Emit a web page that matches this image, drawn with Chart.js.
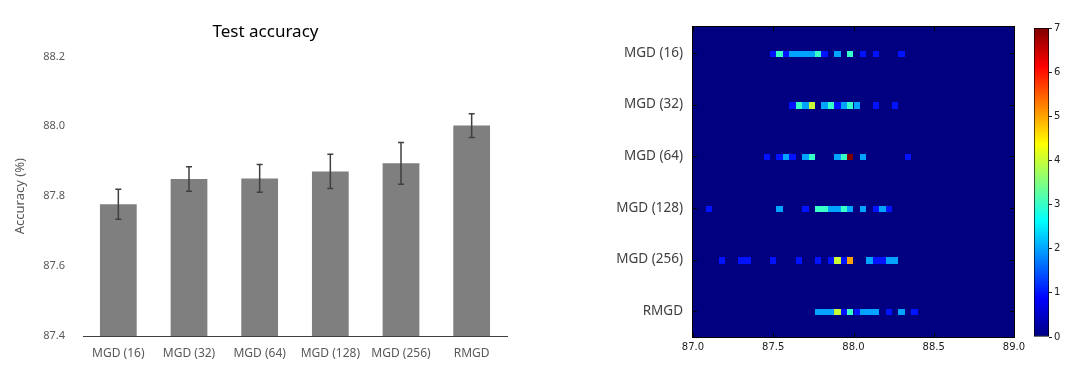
<!DOCTYPE html>
<html><head><meta charset="utf-8">
<script src="https://cdn.jsdelivr.net/npm/chart.js@4.4.1/dist/chart.umd.min.js"></script>
<style>
html,body{margin:0;padding:0;background:#fff;width:1076px;height:378px;overflow:hidden;}
canvas{position:absolute;top:0;}
#bar{left:0}
#heat{left:590px}
#cbar{left:1030px}
</style></head><body>
<canvas id="bar" width="540" height="378"></canvas>
<canvas id="heat" width="440" height="378"></canvas>
<canvas id="cbar" width="46" height="378"></canvas>
<script>
// ---- data ----
const categories = ['MGD (16)','MGD (32)','MGD (64)','MGD (128)','MGD (256)','RMGD'];
const accuracy = [87.777, 87.849, 87.851, 87.871, 87.894, 88.002];
const errors   = [0.043, 0.035, 0.040, 0.049, 0.060, 0.034];
const yTicks = [87.4, 87.6, 87.8, 88.0, 88.2];

// histogram of final accuracies (bin left edge, count) per method
const binWidth = 0.04;
const mgd16Bins   = [87.48,87.52,87.56,87.60,87.64,87.68,87.72,87.76,87.80,87.88,87.96,88.04,88.12,88.28];
const mgd16Counts = [1,3,1,2,2,2,2,3,1,2,3,1,1,1];
const mgd32Bins   = [87.60,87.64,87.68,87.72,87.80,87.84,87.88,87.92,87.96,88.00,88.12,88.24];
const mgd32Counts = [1,3,2,4,2,3,1,2,3,2,1,1];
const mgd64Bins   = [87.44,87.52,87.56,87.60,87.68,87.72,87.88,87.92,87.96,88.04,88.32];
const mgd64Counts = [1,1,2,1,2,3,2,3,7,2,1];
const mgd128Bins  = [87.08,87.52,87.68,87.76,87.80,87.84,87.88,87.92,87.96,88.04,88.12,88.16,88.20];
const mgd128Counts= [1,2,1,3,3,2,2,3,2,2,1,2,1];
const mgd256Bins  = [87.16,87.28,87.32,87.48,87.64,87.76,87.84,87.88,87.92,87.96,88.08,88.12,88.16,88.20,88.24];
const mgd256Counts= [1,1,1,1,1,1,1,4,1,5,2,1,1,2,2];
const rmgdBins    = [87.76,87.80,87.84,87.88,87.92,87.96,88.00,88.04,88.08,88.12,88.20,88.28,88.36];
const rmgdCounts  = [2,2,2,4,1,3,1,2,2,2,1,2,1];
const heatXTicks = [87.0, 87.5, 88.0, 88.5, 89.0];
const colorbarMax = 7;

// ---- helpers ----
const F = '"Noto Sans", "Open Sans", sans-serif';
const FD = '"DejaVu Sans", sans-serif';
function clamp(v){return Math.max(0,Math.min(1,v));}
function jet(t){
  const r=clamp(Math.min(4*t-1.5,-4*t+4.5)), g=clamp(Math.min(4*t-0.5,-4*t+3.5)), b=clamp(Math.min(4*t+0.5,-4*t+2.5));
  return 'rgb('+Math.round(r*255)+','+Math.round(g*255)+','+Math.round(b*255)+')';
}

// ---- bar chart with error bars ----
const errorBarPlugin = {id:'errorBars', afterDatasetsDraw(chart){
  const meta = chart.getDatasetMeta(0), y = chart.scales.y, ctx = chart.ctx;
  ctx.save(); ctx.strokeStyle='#404040'; ctx.lineWidth=1.5;
  meta.data.forEach((bar,i)=>{
    const x = bar.x;
    const yt = y.getPixelForValue(accuracy[i]+errors[i]);
    const yb = y.getPixelForValue(accuracy[i]-errors[i]);
    ctx.beginPath();
    ctx.moveTo(x,yt); ctx.lineTo(x,yb);
    ctx.moveTo(x-3,yt); ctx.lineTo(x+3,yt);
    ctx.moveTo(x-3,yb); ctx.lineTo(x+3,yb);
    ctx.stroke();
  });
  ctx.restore();
}};

new Chart(document.getElementById('bar'), {
  type:'bar',
  data:{labels:categories, datasets:[{data:accuracy, backgroundColor:'#7f7f7f', borderWidth:0, barPercentage:0.52, categoryPercentage:1}]},
  options:{
    responsive:false, animation:false, devicePixelRatio:1, events:[],
    layout:{padding:{left:24,right:33,top:0,bottom:0}},
    plugins:{legend:{display:false}, tooltip:{enabled:false},
      title:{display:true,text:'Test accuracy',color:'#000',font:{family:F,size:17,weight:'normal'},padding:{top:22,bottom:14}}},
    scales:{
      x:{grid:{display:false,drawTicks:false}, border:{display:true,color:'#404040',width:1},
         ticks:{color:'#595959',font:{family:F,size:12},padding:10}, afterFit(s){s.height=42;}},
      y:{min:87.4,max:88.2, grid:{display:false,drawTicks:false}, border:{display:false},
         afterBuildTicks(s){s.ticks = yTicks.map(v=>({value:v}));},
         ticks:{color:'#595959',font:{family:F,size:11},padding:18,callback:v=>Number(v).toFixed(1)},
         title:{display:true,text:'Accuracy (%)',color:'#595959',font:{family:F,size:13},padding:{top:-12,bottom:0}},
         afterFit(s){s.width=59;}}
    }
  },
  plugins:[errorBarPlugin]
});

// ---- heatmap ----
const rows = [[mgd16Bins,mgd16Counts],[mgd32Bins,mgd32Counts],[mgd64Bins,mgd64Counts],
              [mgd128Bins,mgd128Counts],[mgd256Bins,mgd256Counts],[rmgdBins,rmgdCounts]];
const heatDatasets = rows.map((r,ri)=>({
  label:categories[ri],
  data:r[0].map((b,i)=>({x:b+binWidth/2, y:categories[ri], v:r[1][i]})),
  pointRadius:0, showLine:false
}));

const heatPlugin = {id:'heat',
  beforeDatasetsDraw(chart){
    const {ctx, chartArea:a, scales:{x,y}} = chart;
    ctx.save();
    ctx.fillStyle = jet(0);
    ctx.fillRect(a.left,a.top,a.right-a.left,a.bottom-a.top);
    const band = Math.abs(y.getPixelForValue(1)-y.getPixelForValue(0));
    const h = band/8;
    chart.data.datasets.forEach((ds,di)=>{
      ds.data.forEach(p=>{
        const x0 = Math.round(x.getPixelForValue(p.x-binWidth/2));
        const x1 = Math.round(x.getPixelForValue(p.x+binWidth/2));
        const yc = y.getPixelForValue(categories.indexOf(p.y)) + 1;
        const y0 = Math.round(yc-h/2), y1 = Math.round(yc+h/2);
        ctx.fillStyle = jet(p.v/colorbarMax);
        ctx.fillRect(x0,y0,x1-x0,y1-y0);
      });
    });
    ctx.restore();
  },
  afterDraw(chart){
    const {ctx, chartArea:a, scales:{x,y}} = chart;
    ctx.save();
    ctx.strokeStyle='#000'; ctx.lineWidth=1;
    ctx.strokeRect(Math.round(a.left)-0.5,Math.round(a.top)-0.5,Math.round(a.right-a.left)+1,Math.round(a.bottom-a.top)+1);
    ctx.beginPath();
    heatXTicks.forEach(v=>{
      const px = Math.round(x.getPixelForValue(v))+0.5;
      ctx.moveTo(px,a.bottom); ctx.lineTo(px,a.bottom-4);
      ctx.moveTo(px,a.top); ctx.lineTo(px,a.top+4);
    });
    categories.forEach((c,i)=>{
      const py = Math.round(y.getPixelForValue(i))+0.5;
      ctx.moveTo(a.left,py); ctx.lineTo(a.left+4,py);
      ctx.moveTo(a.right,py); ctx.lineTo(a.right-4,py);
    });
    ctx.stroke();
    ctx.restore();
  }
};

new Chart(document.getElementById('heat'), {
  type:'scatter',
  data:{datasets:heatDatasets},
  options:{
    responsive:false, animation:false, devicePixelRatio:1, events:[],
    layout:{padding:{left:0,right:16,top:27,bottom:0}},
    plugins:{legend:{display:false}, tooltip:{enabled:false}},
    scales:{
      x:{type:'linear',min:87,max:89, grid:{display:false,drawTicks:false}, border:{display:false},
         afterBuildTicks(s){s.ticks = heatXTicks.map(v=>({value:v}));},
         ticks:{color:'#222',font:{family:FD,size:10},padding:4,callback:v=>Number(v).toFixed(1)},
         afterFit(s){s.height=41;}},
      y:{type:'category',labels:categories,offset:true, grid:{display:false,drawTicks:false}, border:{display:false},
         ticks:{color:'#404040',font:{family:F,size:13.5},padding:10},
         afterFit(s){s.width=103;}}
    }
  },
  plugins:[heatPlugin]
});

// ---- colorbar ----
new Chart(document.getElementById('cbar'), {
  type:'bar',
  data:{labels:[''], datasets:[{data:[[0,colorbarMax]], borderColor:'#000', borderWidth:1, borderSkipped:false,
    barPercentage:1, categoryPercentage:1,
    backgroundColor(c){
      const ch=c.chart; if(!ch.chartArea) return jet(0.5);
      const y=ch.scales.y;
      const g=ch.ctx.createLinearGradient(0,y.getPixelForValue(0),0,y.getPixelForValue(colorbarMax));
      for(let i=0;i<=64;i++){ g.addColorStop(i/64, jet(i/64)); }
      return g;
    }}]},
  options:{
    responsive:false, animation:false, devicePixelRatio:1, events:[],
    layout:{padding:{left:4,right:0,top:28,bottom:41}},
    plugins:{legend:{display:false}, tooltip:{enabled:false}},
    scales:{
      x:{display:false},
      y:{position:'right',min:0,max:colorbarMax, border:{display:false},
         grid:{drawOnChartArea:false,drawTicks:true,tickLength:3,color:'#222'},
         ticks:{stepSize:1,color:'#222',font:{family:FD,size:10},padding:2},
         afterFit(s){s.width=27;}}
    }
  }
});
</script>
</body></html>
